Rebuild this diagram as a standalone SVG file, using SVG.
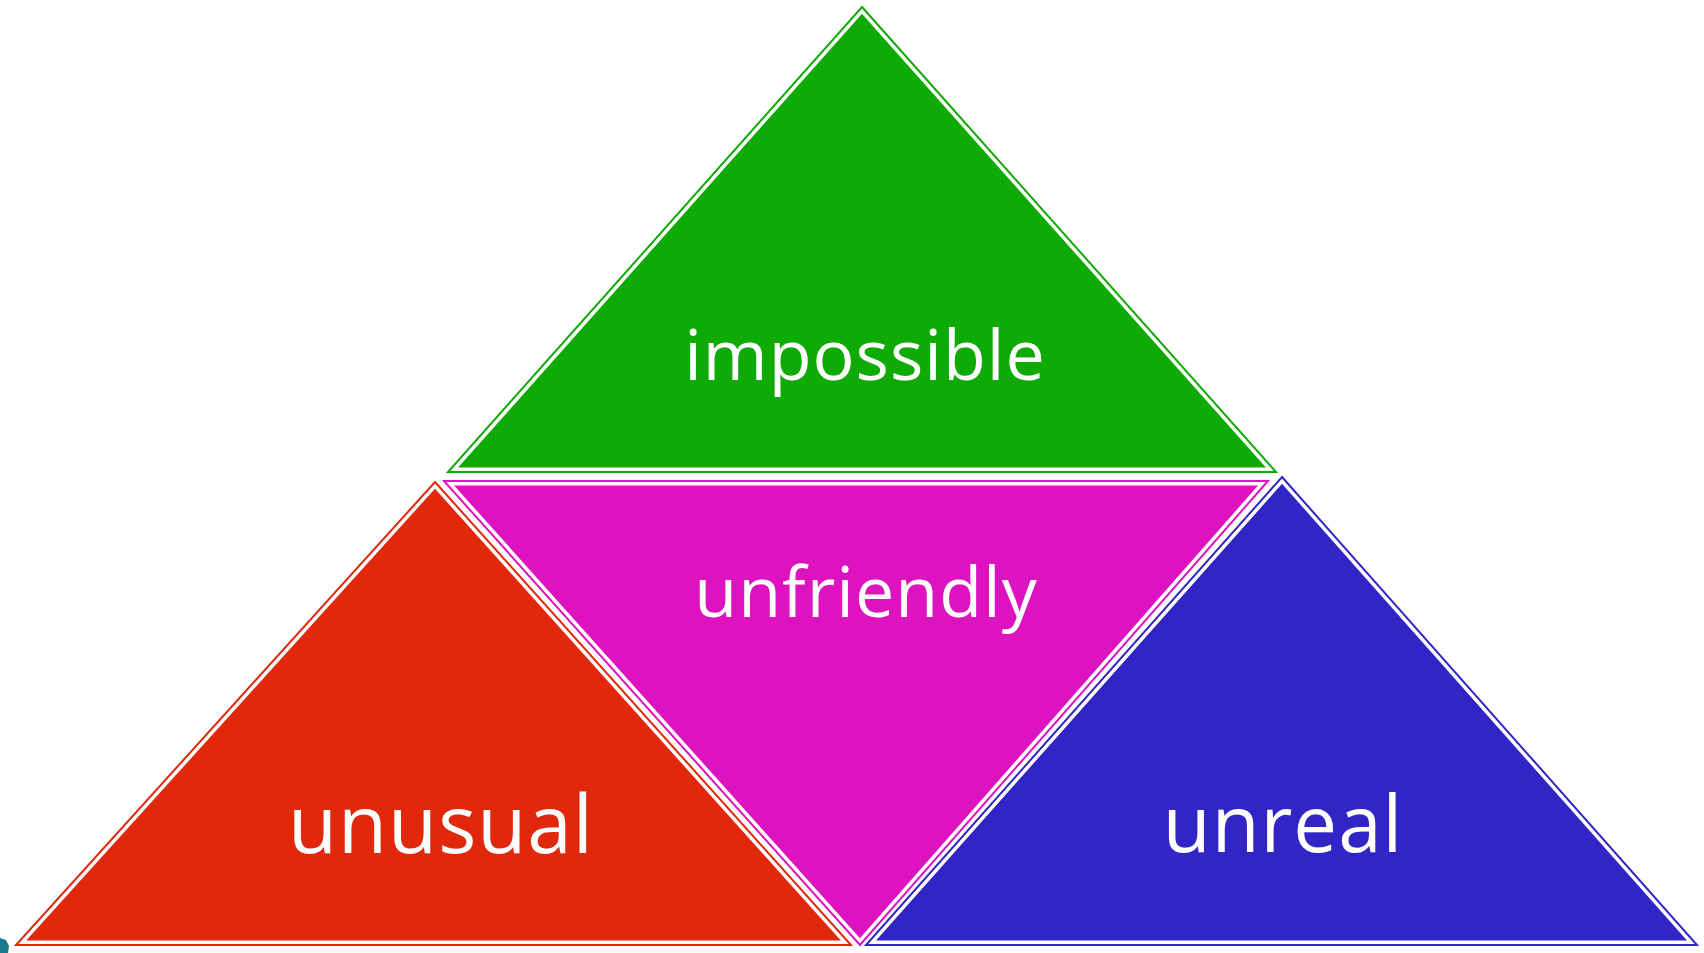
<svg xmlns="http://www.w3.org/2000/svg" xmlns:xlink="http://www.w3.org/1999/xlink" width="1704" height="953" viewBox="0 0 1704 953">
<style>
.gap{fill:none;stroke:#ffffff;stroke-width:9;stroke-linejoin:miter;stroke-miterlimit:20}
.edge{fill:none;stroke-width:2;stroke-linejoin:miter;stroke-miterlimit:20}
.lbl{font-family:"Open Sans","Noto Sans","Liberation Sans",sans-serif;fill:#ffffff;text-anchor:middle;letter-spacing:1px}
.green{fill:#10AA06}.greenS{stroke:#10AA06}
.mag{fill:#DC13BE}.magS{stroke:#DC13BE}
.red{fill:#E1280B}.redS{stroke:#E1280B}
.blue{fill:#3126C5}.blueS{stroke:#3126C5}
</style>
<defs>
<polygon id="pg" points="862,7 1276,472 448,472"/>
<polygon id="pm" points="444,481 1268,481 860,945"/>
<polygon id="pr" points="435,482 851,945 16,945"/>
<polygon id="pb" points="1282,477 1697,945 866,945"/>
<clipPath id="cg"><use xlink:href="#pg" href="#pg"/></clipPath>
<clipPath id="cm"><use xlink:href="#pm" href="#pm"/></clipPath>
<clipPath id="cr"><use xlink:href="#pr" href="#pr"/></clipPath>
<clipPath id="cb"><use xlink:href="#pb" href="#pb"/></clipPath>
</defs>
<rect width="1704" height="953" fill="#ffffff"/>
<g id="node-impossible">
<use href="#pg" class="green"/>
<use href="#pg" class="gap" clip-path="url(#cg)"/>
<use href="#pg" class="edge greenS"/>
<text class="lbl" x="865" y="380" font-size="70">impossible</text>
</g>
<g id="node-unfriendly">
<use href="#pm" class="mag"/>
<use href="#pm" class="gap" clip-path="url(#cm)"/>
<use href="#pm" class="edge magS"/>
<text class="lbl" x="866" y="617" font-size="70">unfriendly</text>
</g>
<g id="node-unusual">
<use href="#pr" class="red"/>
<use href="#pr" class="gap" clip-path="url(#cr)"/>
<use href="#pr" class="edge redS"/>
<text class="lbl" x="441" y="853" font-size="80" letter-spacing="2">unusual</text>
</g>
<g id="node-unreal">
<use href="#pb" class="blue"/>
<use href="#pb" class="gap" clip-path="url(#cb)"/>
<use href="#pb" class="edge blueS"/>
<text class="lbl" x="1283" y="852" font-size="78">unreal</text>
</g>
<g id="connectors"></g>
<path id="fragment" d="M0,938 L6,940 L9,946 L8,953 L0,953 Z" fill="#17798C"/>
</svg>
